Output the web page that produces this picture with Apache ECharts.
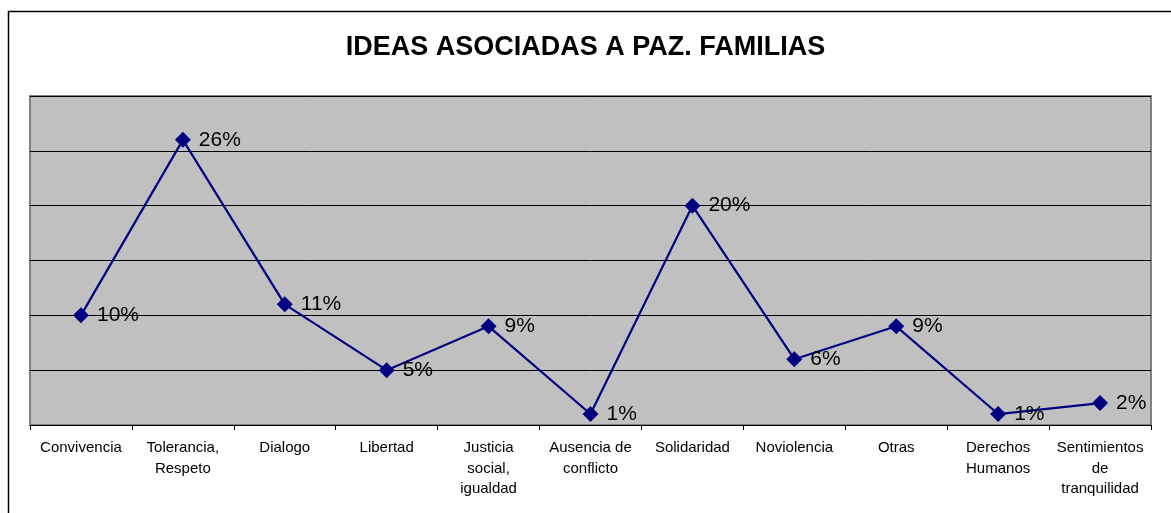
<!DOCTYPE html>
<html>
<head>
<meta charset="utf-8">
<script src="https://cdn.jsdelivr.net/npm/echarts@6/dist/echarts.min.js"></script>
<style>
  html, body { margin: 0; padding: 0; background: #fff; }
  #chart { width: 1171px; height: 513px; }
</style>
</head>
<body>
<div id="chart"></div>
<script>
// categorías y porcentajes
var categorias = [
  'Convivencia', 'Tolerancia,\nRespeto', 'Dialogo', 'Libertad',
  'Justicia\nsocial,\nigualdad', 'Ausencia de\nconflicto', 'Solidaridad',
  'Noviolencia', 'Otras', 'Derechos\nHumanos', 'Sentimientos\nde\ntranquilidad'
]
var porcentajes = [10, 26, 11, 5, 9, 1, 20, 6, 9, 1, 2]

var myChart = echarts.init(document.getElementById('chart'))
var option = {
  backgroundColor: '#fff',
  title: {
    text: 'IDEAS ASOCIADAS A PAZ. FAMILIAS',
    left: 'center',
    top: 29,
    textStyle: {
      color: '#000',
      fontFamily: 'Liberation Sans, Arial, sans-serif',
      fontWeight: 'bold',
      fontSize: 27
    }
  },
  graphic: [
    {
      type: 'rect',
      shape: { x: 8.5, y: 11.5, width: 1200, height: 600 },
      style: { fill: 'none', stroke: '#000', lineWidth: 1.5 },
      silent: true
    }
  ],
  grid: {
    left: 30,
    right: 20,
    top: 96,
    bottom: 88,
    show: true,
    backgroundColor: '#c0c0c0',
    borderColor: '#808080',
    borderWidth: 2
  },
  xAxis: {
    type: 'category',
    data: categorias,
    boundaryGap: true,
    axisLine: { show: true, lineStyle: { color: '#000', width: 1 } },
    axisTick: { show: true, length: 5, lineStyle: { color: '#000' } },
    axisLabel: {
      color: '#000',
      fontFamily: 'Liberation Sans, Arial, sans-serif',
      fontSize: 15,
      lineHeight: 20.5,
      margin: 13,
      interval: 0
    }
  },
  yAxis: {
    type: 'value',
    min: 0,
    max: 30,
    interval: 5,
    axisLine: { show: false },
    axisTick: { show: false },
    axisLabel: { show: false },
    splitLine: { show: true, lineStyle: { color: '#000', width: 1 } }
  },
  series: [
    {
      type: 'line',
      data: porcentajes,
      symbol: 'diamond',
      symbolSize: 16,
      lineStyle: { color: '#000080', width: 2.2 },
      itemStyle: { color: '#000080' },
      label: {
        show: true,
        position: 'right',
        distance: 8,
        formatter: '{c}%',
        color: '#000',
        fontFamily: 'Liberation Sans, Arial, sans-serif',
        fontSize: 21
      },
      animation: false
    }
  ],
  animation: false
}
option && myChart.setOption(option)
</script>
</body>
</html>
